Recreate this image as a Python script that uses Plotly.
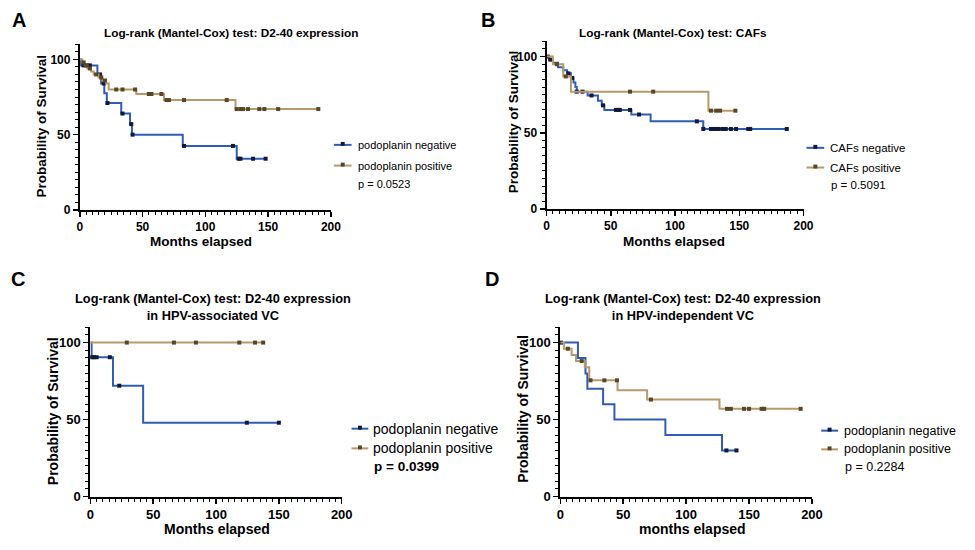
import plotly.graph_objects as go

W, H = 975, 550
FONT = "Liberation Sans, Arial, sans-serif"
BLUE = "#2f5db5"
TAN = "#b8996b"
BLUE_M = "#101a38"
TAN_M = "#5a4526"

# ---------------- data (months, survival %) ----------------
# Panel A: D2-40 expression
A_neg_t = [0, 1, 14, 17, 19.5, 21.5, 33, 40, 41.5, 82, 125, 148]
A_neg_s = [100, 96, 90, 84, 77.5, 71, 64, 57, 50, 42.5, 34, 34]
A_neg_c = [3, 6, 8, 16, 19, 22, 34, 41, 42, 83, 122, 126.5, 128, 138, 148]
A_pos_t = [0, 2, 4, 6, 9, 11, 15, 18, 21, 23, 45, 67, 124, 190]
A_pos_s = [100, 98, 96, 94, 92, 90, 88, 86, 84, 80, 77, 73, 67, 67]
A_pos_c = [3, 5, 8, 13, 17, 20, 29, 34, 44, 55, 57, 65, 69, 71, 83, 117,
           125, 128, 130, 134, 143, 147, 158, 190]

# Panel B: CAFs
B_neg_t = [0, 2, 5, 9, 13, 16, 19, 21, 22.5, 23.5, 32, 40, 43, 45, 66, 81, 122, 187]
B_neg_s = [100, 98, 96, 93, 91, 89, 86, 83, 80, 77, 74.5, 71, 68, 65, 62, 57.5, 52.5, 52.5]
B_neg_c = [1, 3, 17, 20, 23.5, 28, 35, 44, 54, 56, 57, 65, 72, 117, 122, 128, 130,
           132, 134, 137, 139.5, 143.5, 147.5, 157, 158.5, 187]
B_pos_t = [0, 5, 13, 19, 126, 147]
B_pos_s = [100, 95, 87, 77, 64.5, 64.5]
B_pos_c = [8, 15, 65, 83, 128, 132, 135, 147]

# Panel C: HPV-associated VC
C_neg_t = [0, 1, 18, 42, 150]
C_neg_s = [100, 90.5, 72, 48, 48]
C_neg_c = [1.5, 3, 5, 15.5, 23, 124.5, 150]
C_pos_t = [0, 137.5]
C_pos_s = [100, 100]
C_pos_c = [29, 66.5, 84, 118.5, 131, 137.5]

# Panel D: HPV-independent VC
D_neg_t = [0, 14, 20, 21.5, 34, 43, 83.5, 128.5, 140]
D_neg_s = [100, 90, 80, 70, 60, 50, 40, 30, 30]
D_neg_c = [0.5, 132, 140]
D_pos_t = [0, 3, 9, 12.5, 19.5, 23, 45.5, 69, 126.5, 191]
D_pos_s = [100, 96, 92, 88, 84, 75.5, 69, 63, 57, 57]
D_pos_c = [6, 17, 24, 35, 45, 72, 132.5, 135.5, 146, 150, 160, 162, 191]

X_TICKS = [0, 50, 100, 150, 200]
Y_TICKS = [0, 50, 100]

TITLES = ["Log-rank (Mantel-Cox) test: D2-40 expression",
          "Log-rank (Mantel-Cox) test: CAFs",
          "Log-rank (Mantel-Cox) test: D2-40 expression<br>in HPV-associated VC",
          "Log-rank (Mantel-Cox) test: D2-40 expression<br>in HPV-independent VC"]
LEGENDS = [["podoplanin negative", "podoplanin positive"],
           ["CAFs negative", "CAFs positive"],
           ["podoplanin negative", "podoplanin positive"],
           ["podoplanin negative", "podoplanin positive"]]
PVALS = ["p = 0.0523", "p = 0.5091", "<b>p = 0.0399</b>", "p = 0.2284"]
XTITLES = ["Months elapsed", "Months elapsed", "Months elapsed", "months elapsed"]
LETTERS = ["A", "B", "C", "D"]


def px(x):
    return x / W


def py(y):
    return 1 - y / H


def surv_at(times, surv, c):
    val = surv[0]
    for t, s in zip(times, surv):
        if t <= c:
            val = s
    return val


panels = [
    dict(neg=(A_neg_t, A_neg_s, A_neg_c), pos=(A_pos_t, A_pos_s, A_pos_c),
         box=(77, 332, 45, 213), tick=12, title=(231, 33, 11.8),
         ytitle=(38, 128), xtitle=(200, 245), axfont=13.5,
         leg=dict(x0=335, x1=353, xt=357, y1=147, y2=168, yp=187, fs=11, pfs=11),
         letter=(15, 20)),
    dict(neg=(B_neg_t, B_neg_s, B_neg_c), pos=(B_pos_t, B_pos_s, B_pos_c),
         box=(551, 812, 42, 212), tick=12, title=(679, 33, 11.8),
         ytitle=(517, 124), xtitle=(680, 245), axfont=13.5,
         leg=dict(x0=815, x1=833, xt=837, y1=150, y2=170, yp=188, fs=11.5, pfs=11.5),
         letter=(492, 20)),
    dict(neg=(C_neg_t, C_neg_s, C_neg_c), pos=(C_pos_t, C_pos_s, C_pos_c),
         box=(87.7, 343, 332, 504), tick=13, title=(212, 312, 12.8),
         ytitle=(50, 417), xtitle=(216, 537), axfont=14,
         leg=dict(x0=353, x1=370, xt=373, y1=435, y2=455, yp=473, fs=14, pfs=13.5),
         letter=(14, 283)),
    dict(neg=(D_neg_t, D_neg_s, D_neg_c), pos=(D_pos_t, D_pos_s, D_pos_c),
         box=(565, 820.6, 332, 504), tick=13, title=(690, 312, 12.8),
         ytitle=(527, 415), xtitle=(699, 537), axfont=14,
         leg=dict(x0=830, x1=847, xt=851, y1=437, y2=456, yp=474, fs=12.5, pfs=12.5),
         letter=(496, 283)),
]

fig = go.Figure()
layout = dict(width=W, height=H, autosize=False, margin=dict(l=0, r=0, t=0, b=0),
              paper_bgcolor="white", plot_bgcolor="white", showlegend=False,
              font=dict(family=FONT, color="black"))
annotations = []
shapes = []

for i, p in enumerate(panels):
    n = "" if i == 0 else str(i + 1)
    xa, ya = "x" + n, "y" + n
    x0, x1, y0, y1 = p["box"]
    for key, col, mcol in (("neg", BLUE, BLUE_M), ("pos", TAN, TAN_M)):
        t, s, c = p[key]
        fig.add_trace(go.Scatter(x=t, y=s, mode="lines", line=dict(color=col, width=2, shape="hv"),
                                 xaxis=xa, yaxis=ya, cliponaxis=False, hoverinfo="skip"))
        fig.add_trace(go.Scatter(x=c, y=[surv_at(t, s, v) for v in c], mode="markers",
                                 marker=dict(symbol="square", size=4, color=mcol),
                                 xaxis=xa, yaxis=ya, cliponaxis=False, hoverinfo="skip"))
    axcommon = dict(showline=True, linecolor="black", linewidth=2, ticks="outside",
                    ticklen=5, tickwidth=1.5, tickcolor="black", showgrid=False,
                    zeroline=False, tickfont=dict(family=FONT, size=p["tick"], color="black", weight="bold"),
                    minor=dict(ticks="outside", ticklen=3, tickwidth=1, tickcolor="black",
                               dtick=5, showgrid=False))
    layout["xaxis" + n] = dict(axcommon, domain=[px(x0), px(x1)], range=[0, 200],
                               tickvals=X_TICKS, anchor=ya)
    layout["yaxis" + n] = dict(axcommon, domain=[py(y1), py(y0)], range=[0, 110],
                               tickvals=Y_TICKS, anchor=xa)
    tx, ty, tfs = p["title"]
    annotations.append(dict(x=px(tx), y=py(ty), xref="paper", yref="paper", showarrow=False,
                            text="<b>" + TITLES[i].replace("<br>", "</b><br><b>") + "</b>",
                            font=dict(size=tfs, family=FONT), xanchor="center", yanchor="middle"))
    annotations.append(dict(x=px(p["ytitle"][0]), y=py(p["ytitle"][1]), xref="paper", yref="paper",
                            showarrow=False, text="<b>Probability of Survival</b>", textangle=-90,
                            font=dict(size=p["axfont"], family=FONT), xanchor="center", yanchor="middle"))
    annotations.append(dict(x=px(p["xtitle"][0]), y=py(p["xtitle"][1]), xref="paper", yref="paper",
                            showarrow=False, text="<b>" + XTITLES[i] + "</b>",
                            font=dict(size=p["axfont"], family=FONT), xanchor="center", yanchor="middle"))
    annotations.append(dict(x=px(p["letter"][0]), y=py(p["letter"][1]), xref="paper", yref="paper",
                            showarrow=False, text="<b>" + LETTERS[i] + "</b>",
                            font=dict(size=20, family=FONT), xanchor="center", yanchor="middle"))
    lg = p["leg"]
    for label, yy, col, mcol in ((LEGENDS[i][0], lg["y1"], BLUE, BLUE_M),
                                 (LEGENDS[i][1], lg["y2"], TAN, TAN_M)):
        shapes.append(dict(type="line", xref="paper", yref="paper", x0=px(lg["x0"]), x1=px(lg["x1"]),
                           y0=py(yy), y1=py(yy), line=dict(color=col, width=2)))
        xc = (lg["x0"] + lg["x1"]) / 2
        shapes.append(dict(type="rect", xref="paper", yref="paper", x0=px(xc - 2), x1=px(xc + 2),
                           y0=py(yy + 1), y1=py(yy - 3), line=dict(width=0), fillcolor=mcol))
        annotations.append(dict(x=px(lg["xt"]), y=py(yy), xref="paper", yref="paper", showarrow=False,
                                text=label, font=dict(size=lg["fs"], family=FONT),
                                xanchor="left", yanchor="middle"))
    annotations.append(dict(x=px(lg["xt"] + 1), y=py(lg["yp"]), xref="paper", yref="paper", showarrow=False,
                            text=PVALS[i], font=dict(size=lg["pfs"], family=FONT),
                            xanchor="left", yanchor="middle"))

layout["annotations"] = annotations
layout["shapes"] = shapes
fig.update_layout(**layout)
fig.write_html("out.html", config={"displayModeBar": False, "staticPlot": True},
               post_script="document.body.style.margin='0';document.body.style.overflow='hidden';")
